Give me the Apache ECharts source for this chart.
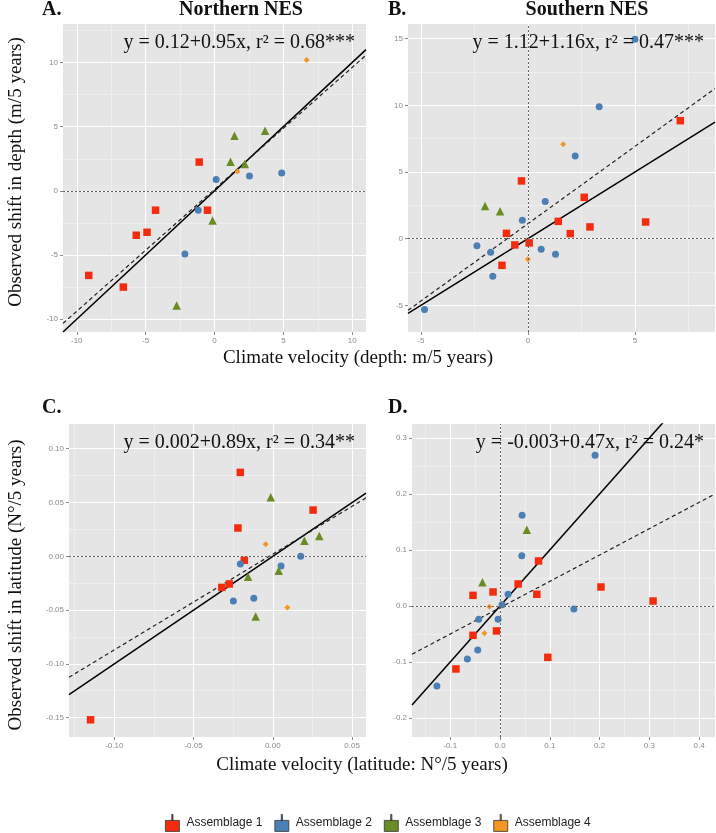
<!DOCTYPE html>
<html><head><meta charset="utf-8">
<script src="https://cdn.jsdelivr.net/npm/echarts@6/dist/echarts.min.js"></script>
<style>html,body{margin:0;padding:0;background:#fff}#c{width:716px;height:833px}</style>
</head><body><div id="c"></div>
<script>
// ---------- data ----------
const groupNames = ['Assemblage 1', 'Assemblage 2', 'Assemblage 3', 'Assemblage 4'];
const panelLetters = ['A.', 'B.', 'C.', 'D.'];
const columnTitles = ['Northern NES', 'Southern NES'];
const equations = [
  'y = 0.12+0.95x, r\u00B2 = 0.68***',
  'y = 1.12+1.16x, r\u00B2 = 0.47***',
  'y = 0.002+0.89x, r\u00B2 = 0.34**',
  'y = -0.003+0.47x, r\u00B2 = 0.24*'
];
const intercepts = [0.12, 1.12, 0.002, -0.003];
const slopes = [0.95, 1.16, 0.89, 0.47];

// Panel A (depth, Northern)
const A1x = [-1.11, -4.28, -0.51, -5.68, -4.9, -9.13, -6.62];
const A1y = [2.24, -1.51, -1.51, -3.46, -3.23, -6.59, -7.5];
const A2x = [0.12, 2.54, 4.88, -1.18, -2.15];
const A2y = [0.88, 1.15, 1.38, -1.51, -4.92];
const A3x = [1.45, 3.67, 1.16, 2.2, -0.14, -2.75];
const A3y = [4.3, 4.69, 2.27, 2.1, -2.32, -8.93];
const A4x = [6.69, 1.67];
const A4y = [10.2, 1.51];
// Panel B (depth, Southern)
const B1x = [7.12, -0.3, 2.63, 1.42, 5.5, 2.9, -1.0, 1.98, 0.06, -0.61, -1.21];
const B1y = [8.85, 4.33, 3.1, 1.3, 1.25, 0.88, 0.4, 0.38, -0.32, -0.47, -2.0];
const B2x = [5.0, 3.33, 2.21, 0.81, -0.26, -2.38, 0.62, -1.74, 1.29, -1.64, -4.83];
const B2y = [14.96, 9.9, 6.2, 2.78, 1.38, -0.53, -0.8, -1.02, -1.17, -2.82, -5.32];
const B3x = [-2.0, -1.3];
const B3y = [2.45, 2.05];
const B4x = [1.65, 0.0];
const B4y = [7.08, -1.55];
// Panel C (latitude, Northern)
const C1x = [-0.0205, 0.0254, -0.022, -0.018, -0.0274, -0.0322, -0.115];
const C1y = [0.078, 0.043, 0.0263, -0.0037, -0.0257, -0.0289, -0.152];
const C2x = [0.0176, -0.0205, 0.0052, -0.0249, -0.012];
const C2y = [0.0, -0.0072, -0.009, -0.0415, -0.039];
const C3x = [-0.0013, 0.0293, 0.0199, 0.0037, -0.0156, -0.0108];
const C3y = [0.055, 0.0189, 0.0145, -0.0134, -0.019, -0.056];
const C4x = [-0.0045, 0.0092];
const C4y = [0.0111, -0.0477];
// Panel D (latitude, Southern)
const D1x = [0.0773, 0.0363, 0.2028, -0.0141, 0.0739, -0.0544, 0.3075, -0.0072, -0.0544, 0.096, -0.0887];
const D1y = [0.0804, 0.0393, 0.0339, 0.025, 0.0209, 0.019, 0.0089, -0.0446, -0.0524, -0.0917, -0.1125];
const D2x = [0.191, 0.0443, 0.0437, 0.0161, 0.004, 0.1484, -0.0429, -0.004, -0.0449, -0.0657, -0.127];
const D2y = [0.269, 0.162, 0.0899, 0.0209, 0.0024, -0.0054, -0.0238, -0.0238, -0.0786, -0.0946, -0.143];
const D3x = [0.0538, -0.0354];
const D3y = [0.136, 0.0423];
const D4x = [-0.0214, -0.0314];
const D4y = [-0.0012, -0.0488];

// tick labels
const AxTicks = [-10, -5, 0, 5, 10], AyTicks = [-10, -5, 0, 5, 10];
const BxTicks = [-5, 0, 5], ByTicks = [-5, 0, 5, 10, 15];
const CxTicks = [-0.10, -0.05, 0.00, 0.05], CyTicks = [-0.15, -0.10, -0.05, 0.00, 0.05, 0.10];
const DxTicks = [-0.1, 0.0, 0.1, 0.2, 0.3, 0.4], DyTicks = [-0.2, -0.1, 0.0, 0.1, 0.2, 0.3];
const AxMinor = [-7.5, -2.5, 2.5, 7.5], AyMinor = [-7.5, -2.5, 2.5, 7.5, 12.5];
const BxMinor = [-2.5, 2.5, 7.5], ByMinor = [-2.5, 2.5, 7.5, 12.5];
const CxMinor = [-0.125, -0.075, -0.025, 0.025], CyMinor = [-0.125, -0.075, -0.025, 0.025, 0.075];
const DxMinor = [-0.15, -0.05, 0.05, 0.15, 0.25, 0.35], DyMinor = [-0.15, -0.05, 0.05, 0.15, 0.25];

// ---------- layout / style ----------
const colors = ['#F42C0F', '#4A80B6', '#6A8C25', '#F29626'];
const symbols = ['rect', 'circle', 'triangle', 'diamond'];
const symbolSizes = [7.5, 7, 8.5, 6];
const grids = [
  {left: 63, top: 24, width: 303, height: 308},
  {left: 408, top: 24, width: 307, height: 308},
  {left: 69, top: 424, width: 297, height: 313},
  {left: 412, top: 424, width: 303, height: 313}
];
const xRanges = [[-11, 11], [-5.6, 8.74], [-0.1286, 0.0588], [-0.177, 0.432]];
const yRanges = [[-11, 13], [-7.0, 16.1], [-0.168, 0.123], [-0.234, 0.325]];
const decimals = [0, 0, 2, 1];
const vZero = [false, true, false, true];

const panels = [
  {xs: [A1x, A2x, A3x, A4x], ys: [A1y, A2y, A3y, A4y], xt: AxTicks, yt: AyTicks, xm: AxMinor, ym: AyMinor},
  {xs: [B1x, B2x, B3x, B4x], ys: [B1y, B2y, B3y, B4y], xt: BxTicks, yt: ByTicks, xm: BxMinor, ym: ByMinor},
  {xs: [C1x, C2x, C3x, C4x], ys: [C1y, C2y, C3y, C4y], xt: CxTicks, yt: CyTicks, xm: CxMinor, ym: CyMinor},
  {xs: [D1x, D2x, D3x, D4x], ys: [D1y, D2y, D3y, D4y], xt: DxTicks, yt: DyTicks, xm: DxMinor, ym: DyMinor}
];

const tickColor = '#8a8a8a';
const grid = [], xAxis = [], yAxis = [], series = [], graphic = [];

panels.forEach((p, i) => {
  grid.push(Object.assign({backgroundColor: '#E5E5E5', show: true, borderWidth: 0}, grids[i]));
  const fmt = v => Number(v).toFixed(decimals[i]);
  xAxis.push({type: 'value', gridIndex: i, min: xRanges[i][0], max: xRanges[i][1], position: 'bottom',
    axisLine: {show: false, onZero: false},
    axisTick: {show: true, length: 3, lineStyle: {color: tickColor}, customValues: p.xt},
    axisLabel: {customValues: p.xt, formatter: fmt, color: tickColor, fontSize: 8, fontFamily: 'Liberation Sans', margin: 5},
    splitLine: {show: true, lineStyle: {color: '#ffffff', width: 1}}
  });
  yAxis.push({type: 'value', gridIndex: i, min: yRanges[i][0], max: yRanges[i][1], position: 'left',
    axisLine: {show: false, onZero: false},
    axisTick: {show: true, length: 3, lineStyle: {color: tickColor}, customValues: p.yt},
    axisLabel: {customValues: p.yt, formatter: fmt, color: tickColor, fontSize: 8, fontFamily: 'Liberation Sans', margin: 5},
    splitLine: {show: true, lineStyle: {color: '#ffffff', width: 1}}
  });
});
panels.forEach((p, i) => {
  xAxis.push({type: 'value', gridIndex: i, min: xRanges[i][0], max: xRanges[i][1], position: 'top',
    axisLine: {show: false, onZero: false}, axisLabel: {show: false},
    axisTick: {show: false, customValues: p.xm},
    splitLine: {show: true, lineStyle: {color: '#F2F2F2', width: 0.7}}
  });
  yAxis.push({type: 'value', gridIndex: i, min: yRanges[i][0], max: yRanges[i][1], position: 'right',
    axisLine: {show: false, onZero: false}, axisLabel: {show: false},
    axisTick: {show: false, customValues: p.ym},
    splitLine: {show: true, lineStyle: {color: '#F2F2F2', width: 0.7}}
  });
});

panels.forEach((p, i) => {
  const x0 = xRanges[i][0], x1 = xRanges[i][1];
  const zeroLines = [{yAxis: 0}];
  if (vZero[i]) zeroLines.push({xAxis: 0});
  series.push({type: 'line', xAxisIndex: i, yAxisIndex: i, symbol: 'none', silent: true, z: 3,
    data: [[x0, x0], [x1, x1]],
    lineStyle: {color: '#000', width: 1.5},
    markLine: {silent: true, symbol: 'none', label: {show: false},
      lineStyle: {type: [2, 2], color: '#666', width: 1}, data: zeroLines}
  });
  series.push({type: 'line', xAxisIndex: i, yAxisIndex: i, symbol: 'none', silent: true, z: 3,
    data: [[x0, intercepts[i] + slopes[i] * x0], [x1, intercepts[i] + slopes[i] * x1]],
    lineStyle: {color: '#222', width: 1.2, type: [4, 3]}
  });
  groupNames.forEach((g, k) => {
    series.push({type: 'scatter', name: g, xAxisIndex: i, yAxisIndex: i, z: 4,
      symbol: symbols[k], symbolSize: symbolSizes[k],
      itemStyle: {color: colors[k], opacity: 1},
      data: p.xs[k].map((x, j) => [x, p.ys[k][j]])
    });
  });
  const gr = grids[i];
  graphic.push({type: 'text', z: 100,
    x: gr.left + gr.width - 11, y: gr.top + 19,
    style: {text: equations[i], font: '20px "Liberation Serif"', fill: '#111', align: 'right', verticalAlign: 'middle'}
  });
  graphic.push({type: 'text', x: (i % 2 === 0 ? 42 : 388), y: (i < 2 ? 10 : 408),
    style: {text: panelLetters[i], font: 'bold 20px "Liberation Serif"', fill: '#111', align: 'left', verticalAlign: 'middle'}
  });
});
columnTitles.forEach((t, c) => {
  graphic.push({type: 'text', x: c === 0 ? 241 : 587, y: 10,
    style: {text: t, font: 'bold 20px "Liberation Serif"', fill: '#111', align: 'center', verticalAlign: 'middle'}});
});
graphic.push({type: 'text', x: 358, y: 358,
  style: {text: 'Climate velocity (depth: m/5 years)', font: '19px "Liberation Serif"', fill: '#111', align: 'center', verticalAlign: 'middle'}});
graphic.push({type: 'text', x: 362, y: 765,
  style: {text: 'Climate velocity (latitude: N\u00B0/5 years)', font: '19px "Liberation Serif"', fill: '#111', align: 'center', verticalAlign: 'middle'}});
graphic.push({type: 'text', x: 16, y: 172, rotation: Math.PI / 2,
  style: {text: 'Observed shift in depth (m/5 years)', font: '19px "Liberation Serif"', fill: '#111', align: 'center', verticalAlign: 'middle'}});
graphic.push({type: 'text', x: 16, y: 585, rotation: Math.PI / 2,
  style: {text: 'Observed shift in latitude (N\u00B0/5 years)', font: '19px "Liberation Serif"', fill: '#111', align: 'center', verticalAlign: 'middle'}});

const chart = echarts.init(document.getElementById('c'), null, {renderer: 'canvas'});
chart.setOption({
  animation: false,
  color: colors,
  grid, xAxis, yAxis, series, graphic,
  legend: {
    data: groupNames, left: 160, top: 809, itemGap: 12, itemWidth: 18, itemHeight: 17,
    icon: 'path://M2,6 L16,6 L16,17 L2,17 Z M8.4,0 L9.6,0 L9.6,6 L8.4,6 Z',
    itemStyle: {borderColor: '#333', borderWidth: 0.8},
    textStyle: {fontSize: 12, fontFamily: 'Liberation Sans', color: '#222'}
  }
});
</script></body></html>
